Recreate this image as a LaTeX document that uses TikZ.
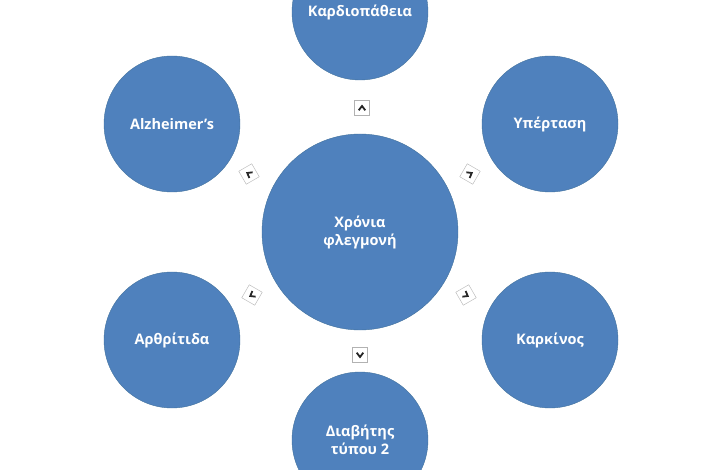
\documentclass[tikz,border=0pt]{standalone}
\usepackage{fontspec}
\setmainfont{Open Sans}
\definecolor{disc}{HTML}{4F81BD}
\definecolor{discline}{HTML}{41719C}
\begin{document}
\begin{tikzpicture}[x=1pt,y=-1pt,
  disease/.style={circle,fill=disc,draw=discline,minimum size=136pt,inner sep=0pt,
    text=white,font=\bfseries\fontsize{14.5}{18}\selectfont,align=center},
  arrowbox/.style={draw=black!30,fill=white,minimum size=15pt,inner sep=0pt}]
  \useasboundingbox (0,0) rectangle (720,470);
  \node[disease,minimum size=196pt] (center) at (360,232) {Χρόνια\\φλεγμονή};
  \node[disease] (kardio) at (360,12) {Καρδιοπάθεια};
  \node[disease] (alz) at (172,124) {Alzheimer’s};
  \node[disease] (yper) at (550,124) {Υπέρταση};
  \node[disease] (arth) at (172,340) {Αρθρίτιδα};
  \node[disease] (kark) at (550,340) {Καρκίνος};
  \node[disease] (diab) at (360,440) {Διαβήτης\\τύπου 2};
  % small arrow boxes
  \foreach \name/\x/\y/\a in {bk/362/108/90, ba/249/174/150, by/470/174/30,
                              bar/252/295/210, bka/466/295/330, bd/360/355/270} {
      \node[arrowbox,rotate=-\a] (\name) at (\x,\y) {};
      \draw[line width=1.8pt,black!85] ([shift={(-\a+125:4)}]\name.center)
          -- ([shift={(-\a:2)}]\name.center) -- ([shift={(-\a-125:4)}]\name.center);
  }
\end{tikzpicture}
\end{document}
